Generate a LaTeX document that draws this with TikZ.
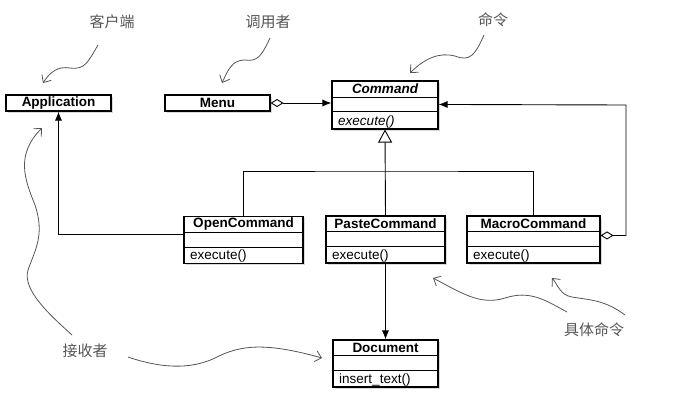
\documentclass[tikz,border=0pt]{standalone}
\usepackage{fontspec}
\setmainfont{Liberation Sans}
\newfontfamily\cjk{Noto Sans CJK SC}
\usetikzlibrary{calc,arrows.meta,shadows}
\newcommand\classheight{47}
\newcommand\titleheight{16}
\newcommand\fieldheight{31}
\definecolor{notegray}{HTML}{555555}

\begin{document}
\begin{tikzpicture}[x=1pt, y=-1pt, >={Latex[length=9pt,width=7pt]}, line width=0.9pt]
	\tikzstyle{every node}=[font=\fontsize{13.5}{15}\selectfont]
	\tikzstyle{box}=[draw, line width=1.1pt, fill=white, inner sep=0pt, drop shadow={shadow xshift=1.5pt, shadow yshift=-1.5pt, opacity=.3}]
	\tikzstyle{title}=[font=\fontsize{13.5}{15}\selectfont\bfseries]
	\tikzstyle{note}=[font=\fontsize{15}{17}\selectfont\cjk, text=notegray]
	\tikzstyle{hint}=[notegray, line width=0.8pt, -{Straight Barb[length=6pt,width=11pt]}]
	\tikzstyle{agg}=[{Diamond[open,length=13pt,width=8pt]}->]
	
	\useasboundingbox (0,0) rectangle (680,408);
	
	%client and invoker
	\node[box, minimum width=105, minimum height=16] (app) at (58.5,103) {};
	\node[title] at (app) {Application};
	\node[box, minimum width=105, minimum height=16] (menu) at (217.5,103) {};
	\node[title] at (menu) {Menu};
	
	%abstract command
	\node[box, minimum width=106, minimum height=48] (cmd) at (385,105) {};
	\draw[line width=0.7pt] ($(cmd.north west)+(0,17)$) -- ($(cmd.north east)+(0,17)$);
	\draw[line width=0.7pt] ($(cmd.north west)+(0,\fieldheight)$) -- ($(cmd.north east)+(0,\fieldheight)$);
	\node[title, font=\fontsize{13.5}{15}\selectfont\bfseries\itshape] at ($(cmd.north)+(0,8.5)$) {Command};
	\node[anchor=west, font=\fontsize{13.5}{15}\selectfont\itshape] at ($(cmd.south west)+(3,-8)$) {execute()};
	
	%concrete classes
	\foreach \n/\x/\y/\w/\t/\m in {open/243.5/240/119/OpenCommand/execute(), paste/385.5/239.5/119/PasteCommand/execute(), macro/533.5/239.5/133/MacroCommand/execute(), doc/385.5/363.5/105/Document/insert\_text()}
	{
		\node[box, minimum width=\w, minimum height=\classheight] (\n) at (\x,\y) {};
		\draw[line width=0.7pt] ($(\n.north west)+(0,\titleheight)$) -- ($(\n.north east)+(0,\titleheight)$);
		\draw[line width=0.7pt] ($(\n.north west)+(0,\fieldheight)$) -- ($(\n.north east)+(0,\fieldheight)$);
		\node[title] at ($(\n.north)+(0,8)$) {\t};
		\node[anchor=west] at ($(\n.south west)+(3,-8)$) {\m};
	}
	
	%connectors
	\draw[agg] (menu.east) -- (menu.east -| cmd.west);
	\coordinate (hub) at (385,171);
	\draw (open.north) |- (hub) -| (macro.north);
	\draw[-{Triangle[open,length=13pt,width=14pt]}] (paste.north) -- (cmd.south);
	\draw[->] ($(open.north west)+(0,18)$) -| (app.south);
	\coordinate (loop) at (626,105);
	\draw[agg] ($(macro.north east)+(0,20)$) -| (loop) -- ($(cmd.north east)+(0,24)$);
	\draw[->] (paste.south) -- (doc.north);
	
	%notes
	\node[note] (client) at (112,22) {客户端};
	\node[note] (invoker) at (268,22) {调用者};
	\node[note] (command) at (493,20) {命令};
	\node[note] (receiver) at (85,351) {接收者};
	\node[note] (concrete) at (594,330) {具体命令};
	
	\draw[hint] (98,45) .. controls (88,62) and (85,70) .. (70,68) .. controls (58,66) and (50,72) .. (43,83);
	\draw[hint] (270,38) .. controls (262,55) and (258,62) .. (245,60) .. controls (232,60) and (228,70) .. (222,83);
	\draw[hint] (484,35) .. controls (475,55) and (470,62) .. (455,56) .. controls (440,52) and (425,58) .. (410,73);
	\draw[hint] (72,335) .. controls (50,315) and (22,290) .. (28,270) .. controls (35,250) and (45,235) .. (35,205) .. controls (25,180) and (15,155) .. (42,128);
	\draw[hint] (128,357) .. controls (160,368) and (190,370) .. (215,358) .. controls (240,345) and (265,342) .. (322,358);
	\draw[hint] (567,312) .. controls (545,300) and (530,290) .. (505,298) .. controls (480,306) and (460,292) .. (433,278);
	\draw[hint] (625,315) .. controls (605,300) and (590,300) .. (572,297) .. controls (560,295) and (558,285) .. (552,278);
\end{tikzpicture}
\end{document}
